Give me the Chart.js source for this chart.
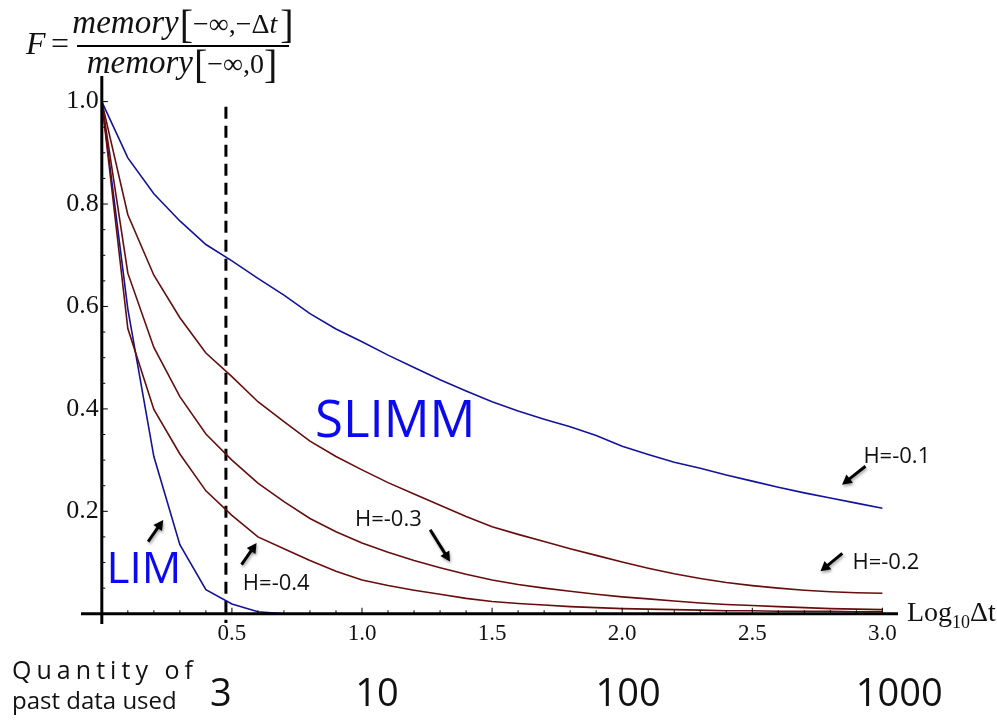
<!DOCTYPE html>
<html>
<head>
<meta charset="utf-8">
<script src="https://cdn.jsdelivr.net/npm/chart.js@4.4.1/dist/chart.umd.min.js"></script>
<style>
  html, body { margin: 0; padding: 0; background: #fff; }
  #wrap { width: 997px; height: 722px; }
</style>
</head>
<body>
<div id="wrap"><canvas id="chart" width="997" height="722"></canvas></div>
<script>
// log10(dt) sample points shared by the SLIMM curves
const logDt = [0, 0.1, 0.2, 0.3, 0.4, 0.5, 0.6, 0.7, 0.8, 0.9, 1.0,
  1.1, 1.2, 1.3, 1.4, 1.5, 1.6, 1.7, 1.8, 1.9, 2.0,
  2.1, 2.2, 2.3, 2.4, 2.5, 2.6, 2.7, 2.8, 2.9, 3.0];

// SLIMM memory fraction F for each Hurst exponent
const slimmH01 = [1.0, 0.890, 0.820, 0.767, 0.721, 0.689, 0.655, 0.622, 0.586, 0.556, 0.531,
  0.505, 0.481, 0.457, 0.435, 0.414, 0.396, 0.380, 0.365, 0.348, 0.327,
  0.311, 0.296, 0.284, 0.271, 0.259, 0.247, 0.236, 0.226, 0.216, 0.206];
const slimmH02 = [1.0, 0.779, 0.661, 0.578, 0.509, 0.463, 0.414, 0.375, 0.337, 0.307, 0.281,
  0.256, 0.234, 0.212, 0.190, 0.170, 0.155, 0.141, 0.127, 0.114, 0.101,
  0.089, 0.078, 0.069, 0.061, 0.055, 0.050, 0.046, 0.043, 0.041, 0.040];
const slimmH03 = [1.0, 0.665, 0.520, 0.424, 0.351, 0.300, 0.255, 0.219, 0.186, 0.160, 0.138,
  0.120, 0.104, 0.090, 0.077, 0.066, 0.057, 0.050, 0.044, 0.038, 0.033,
  0.029, 0.025, 0.021, 0.018, 0.016, 0.014, 0.012, 0.010, 0.009, 0.008];
const slimmH04 = [1.0, 0.557, 0.399, 0.312, 0.240, 0.192, 0.150, 0.127, 0.104, 0.083, 0.066,
  0.055, 0.046, 0.038, 0.030, 0.024, 0.020, 0.017, 0.014, 0.012, 0.010,
  0.009, 0.008, 0.007, 0.006, 0.006, 0.005, 0.005, 0.005, 0.004, 0.004];

// LIM curve (short memory)
const limLogDt = [0, 0.1, 0.2, 0.3, 0.4, 0.5, 0.6, 0.7, 0.8];
const limValues = [1.0, 0.595, 0.307, 0.135, 0.047, 0.019, 0.004, 0.0, 0.0];

// dashed marker at 3 past data points
const markerLogDt = 0.477;
const markerRange = [0.99, -0.018];

const xTickLabels = ['0.5', '1.0', '1.5', '2.0', '2.5', '3.0'];
const yTickLabels = ['0.2', '0.4', '0.6', '0.8', '1.0'];
const quantityLabels = ['3', '10', '100', '1000'];
const curveLabels = ['H=-0.1', 'H=-0.2', 'H=-0.3', 'H=-0.4'];

const BLUE = '#12129c';
const RED = '#680d0d';
const BRIGHT = '#0a0af2';

const pts = (xs, ys) => ys.map((v, i) => ({ x: xs[i], y: v }));

function arrow(ctx, x1, y1, x2, y2) {
  const a = Math.atan2(y2 - y1, x2 - x1);
  const head = 11;
  ctx.beginPath();
  ctx.moveTo(x1, y1);
  ctx.lineTo(x2 - Math.cos(a) * head * 0.6, y2 - Math.sin(a) * head * 0.6);
  ctx.stroke();
  ctx.beginPath();
  ctx.moveTo(x2, y2);
  ctx.lineTo(x2 - head * Math.cos(a - 0.5), y2 - head * Math.sin(a - 0.5));
  ctx.lineTo(x2 - head * Math.cos(a + 0.5), y2 - head * Math.sin(a + 0.5));
  ctx.closePath();
  ctx.fill();
}

// draws a run of [text, font, dy, dx] pieces centred on cx
function drawRun(ctx, pieces, cx, base) {
  let w = 0;
  pieces.forEach(p => { ctx.font = p[1]; w += ctx.measureText(p[0]).width + (p[3] || 0); });
  let x = cx - w / 2;
  pieces.forEach(p => {
    ctx.font = p[1];
    ctx.fillText(p[0], x + (p[3] || 0), base + (p[2] || 0));
    x += ctx.measureText(p[0]).width + (p[3] || 0);
  });
}

const overlay = {
  id: 'overlay',
  afterDatasetsDraw(chart) {
    const { ctx, scales: { x, y } } = chart;
    const X = v => x.getPixelForValue(v);
    const Y = v => y.getPixelForValue(v);
    ctx.save();
    ctx.fillStyle = '#111';
    ctx.strokeStyle = '#000';

    // axes crossing at the origin
    ctx.lineWidth = 3;
    ctx.beginPath(); ctx.moveTo(x.left, Y(0)); ctx.lineTo(x.right, Y(0)); ctx.stroke();
    ctx.beginPath(); ctx.moveTo(X(0), y.top); ctx.lineTo(X(0), y.bottom); ctx.stroke();

    // inward ticks
    ctx.lineWidth = 1;
    for (let k = 1; k <= 30; k++) {
      const len = k % 5 === 0 ? 6 : 3.5;
      ctx.beginPath(); ctx.moveTo(X(k / 10), Y(0)); ctx.lineTo(X(k / 10), Y(0) - len); ctx.stroke();
    }
    for (let k = 1; k <= 20; k++) {
      const len = k % 4 === 0 ? 6 : 3.5;
      ctx.beginPath(); ctx.moveTo(X(0), Y(k / 20)); ctx.lineTo(X(0) + len, Y(k / 20)); ctx.stroke();
    }

    // tick labels
    ctx.font = '23px "Liberation Serif"';
    ctx.textAlign = 'center';
    ctx.textBaseline = 'alphabetic';
    xTickLabels.forEach(t => ctx.fillText(t, X(parseFloat(t)), Y(0) + 26));
    ctx.font = '26px "Liberation Serif"';
    ctx.textAlign = 'right';
    ctx.textBaseline = 'middle';
    yTickLabels.forEach(t => ctx.fillText(t, X(0) - 3, Y(parseFloat(t))));

    // x axis title
    ctx.textAlign = 'left';
    ctx.textBaseline = 'alphabetic';
    let tx = x.right + 9;
    ctx.font = '28px "Liberation Serif"';
    ctx.fillText('Log', tx, Y(0) + 7); tx += ctx.measureText('Log').width;
    ctx.font = '18px "Liberation Serif"';
    ctx.fillText('10', tx, Y(0) + 14); tx += ctx.measureText('10').width;
    ctx.font = '28px "Liberation Serif"';
    ctx.fillText('Δt', tx, Y(0) + 7);

    // y axis title: F = memory[-inf,-dt] / memory[-inf,0]
    ctx.font = 'italic 32px "Liberation Serif"';
    ctx.fillText('F', 26, 54);
    ctx.font = '32px "Liberation Serif"';
    ctx.fillText('=', 51, 54);
    ctx.lineWidth = 2;
    ctx.beginPath(); ctx.moveTo(77, 46); ctx.lineTo(289, 46); ctx.stroke();
    const it = 'italic 33px "Liberation Serif"', rm = '28px "Liberation Serif"',
      ti = 'italic 28px "Liberation Serif"', br = '40px "Liberation Serif"';
    drawRun(ctx, [['memory', it], ['[', br, 5, 1], ['−∞,−Δ', rm], ['t', ti], [']', br, 5, 3]], 183, 33);
    drawRun(ctx, [['memory', it], ['[', br, 5, 1], ['−∞,0', rm], [']', br, 5]], 182, 73);

    // quantity of past data used
    ctx.font = '25px "Open Sans"';
    const q = 'Quantity of';
    let sum = 0;
    for (const c of q) sum += ctx.measureText(c).width;
    const gap = (181 - sum) / (q.length - 1);
    let qx = 12;
    for (const c of q) { ctx.fillText(c, qx, 679); qx += ctx.measureText(c).width + gap; }
    ctx.font = '24px "Open Sans"';
    ctx.fillText('past data used', 12, 709);
    ctx.font = '38px "Open Sans"';
    ctx.textAlign = 'center';
    const qPos = [0.458, 1.058, 2.023, 3.065];
    quantityLabels.forEach((t, i) => ctx.fillText(t, X(qPos[i]), 706));

    // region names
    ctx.textAlign = 'left';
    ctx.fillStyle = BRIGHT;
    ctx.font = '51px "Open Sans"';
    ctx.fillText('SLIMM', X(0.819), Y(0.346));
    ctx.font = '44px "Open Sans"';
    ctx.fillText('LIM', X(0.018), Y(0.060));

    // curve labels
    ctx.fillStyle = '#111';
    ctx.font = '22px "Open Sans"';
    const labelAt = [[2.927, 0.294], [2.885, 0.088], [0.973, 0.172], [0.542, 0.047]];
    curveLabels.forEach((t, i) => ctx.fillText(t, X(labelAt[i][0]), Y(labelAt[i][1])));

    // arrows
    ctx.fillStyle = '#000';
    ctx.lineWidth = 3;
    ctx.shadowColor = 'rgba(0,0,0,0.35)';
    ctx.shadowBlur = 3;
    ctx.shadowOffsetX = 1;
    ctx.shadowOffsetY = 2;
    const arrows = [
      [2.935, 0.288, 2.845, 0.252],
      [2.846, 0.118, 2.762, 0.083],
      [1.262, 0.164, 1.338, 0.102],
      [0.537, 0.096, 0.595, 0.138],
      [0.178, 0.141, 0.236, 0.183]
    ];
    arrows.forEach(a => arrow(ctx, X(a[0]), Y(a[1]), X(a[2]), Y(a[3])));
    ctx.restore();
  }
};

new Chart(document.getElementById('chart'), {
  type: 'line',
  data: {
    datasets: [
      { label: curveLabels[0], data: pts(logDt, slimmH01), borderColor: BLUE },
      { label: curveLabels[1], data: pts(logDt, slimmH02), borderColor: RED },
      { label: curveLabels[2], data: pts(logDt, slimmH03), borderColor: RED },
      { label: curveLabels[3], data: pts(logDt, slimmH04), borderColor: RED },
      { label: 'LIM', data: pts(limLogDt, limValues), borderColor: BLUE },
      {
        label: 'marker',
        data: markerRange.map(v => ({ x: markerLogDt, y: v })),
        borderColor: '#000', borderWidth: 3, borderDash: [12, 7]
      }
    ]
  },
  options: {
    responsive: false,
    animation: false,
    layout: { padding: { left: 81, right: 99, top: 76, bottom: 98 } },
    elements: {
      point: { radius: 0 },
      line: { tension: 0, borderWidth: 1.6, fill: false }
    },
    plugins: { legend: { display: false }, tooltip: { enabled: false } },
    scales: {
      x: { type: 'linear', min: -0.08, max: 3.06, display: false },
      y: { min: -0.02, max: 1.05, display: false }
    }
  },
  plugins: [overlay]
});
</script>
</body>
</html>
